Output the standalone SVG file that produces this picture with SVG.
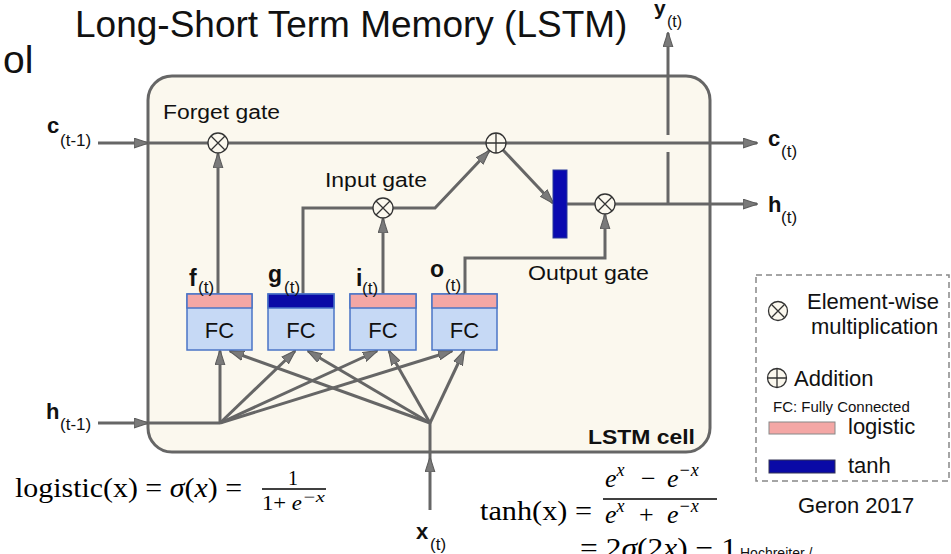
<svg xmlns="http://www.w3.org/2000/svg" width="951" height="554" viewBox="0 0 951 554">
<defs>
<marker id="ah" viewBox="0 0 14 10" refX="13" refY="5" markerWidth="15" markerHeight="11" markerUnits="userSpaceOnUse" orient="auto">
<path d="M0,0.5 L14,5 L0,9.5 Z" fill="#7a7a7a" stroke="#5c5c5c" stroke-width="1"/>
</marker>
<style>
.ln{fill:none;stroke:#666;stroke-width:3;stroke-linejoin:miter}
.ar{marker-end:url(#ah)}
.sans{font-family:"Liberation Sans",Arial,sans-serif;fill:#111}
.bold{font-weight:bold}
.serif{font-family:"Liberation Serif","Times New Roman",serif;fill:#000}
.op{fill:#fbf8ee;stroke:#333;stroke-width:1.3}
.opl{stroke:#333;stroke-width:1.3}
.fcb{fill:#c6d9f5;stroke:#4b74c6;stroke-width:1.5}
.pink{fill:#f4a7a5;stroke:#4b74c6;stroke-width:1.5}
.blue{fill:#0a0aa6;stroke:#4b74c6;stroke-width:1.5}
</style>
</defs>
<rect width="951" height="554" fill="#fff"/>

<g id="title">
<text class="sans" x="75" y="37" font-size="37" fill="#000">Long-Short Term Memory (LSTM)</text>
<text class="sans" x="3" y="73" font-size="39" fill="#000">ol</text>
</g>

<g id="cell">
<rect x="148" y="76" width="562" height="376" rx="24" fill="#fbf8ee" stroke="#666" stroke-width="3"/>
<text class="sans bold" x="588" y="444" font-size="20" textLength="107" lengthAdjust="spacingAndGlyphs">LSTM cell</text>
<text class="sans" x="163" y="119" font-size="20" textLength="117" lengthAdjust="spacingAndGlyphs">Forget gate</text>
<text class="sans" x="325" y="187" font-size="20" textLength="102" lengthAdjust="spacingAndGlyphs">Input gate</text>
<text class="sans" x="528" y="280" font-size="20" textLength="121" lengthAdjust="spacingAndGlyphs">Output gate</text>
</g>

<g id="connectors">
<path class="ln ar" d="M98,143 H148"/>
<path class="ln" d="M148,143 H208"/>
<path class="ln" d="M228,143 H486"/>
<path class="ln ar" d="M506,143 H757"/>
<path class="ln ar" d="M218,294 V154"/>
<path class="ln" d="M303,294 V208 H373"/>
<path class="ln ar" d="M383,294 V219"/>
<path class="ln ar" d="M393,208 H435 L489,151"/>
<path class="ln ar" d="M503,150 L553,203"/>
<path class="ln" d="M567,204 H595"/>
<path class="ln ar" d="M615,204 H757"/>
<path class="ln ar" d="M465,294 V258 H605 V215"/>
<path class="ln" d="M668,204 V152"/>
<path class="ln ar" d="M668,135 V33"/>
<path class="ln ar" d="M98,423 H148"/>
<path class="ln" d="M148,423 H220"/>
<path class="ln ar" d="M430,510 V458"/>
<path class="ln" d="M430,458 V423"/>
<path class="ln ar" d="M220,423 V351"/>
<path class="ln ar" d="M220,423 L295,351"/>
<path class="ln ar" d="M220,423 L377,351"/>
<path class="ln ar" d="M220,423 L452,351"/>
<path class="ln ar" d="M430,423 L230,351"/>
<path class="ln ar" d="M430,423 L308,351"/>
<path class="ln ar" d="M430,423 L389,351"/>
<path class="ln ar" d="M430,423 L464,351"/>
</g>

<g id="forget-op">
<circle class="op" cx="218" cy="143" r="10"/>
<path class="opl" d="M211,136 L225,150 M225,136 L211,150"/>
</g>
<g id="input-op">
<circle class="op" cx="383" cy="208" r="10"/>
<path class="opl" d="M376,201 L390,215 M390,201 L376,215"/>
</g>
<g id="add-op">
<circle class="op" cx="496" cy="143" r="10"/>
<path class="opl" d="M486,143 H506 M496,133 V153"/>
</g>
<g id="output-op">
<circle class="op" cx="605" cy="204" r="10"/>
<path class="opl" d="M598,197 L612,211 M612,197 L598,211"/>
</g>
<g id="tanh-bar">
<rect x="553" y="170" width="14" height="68" fill="#0a0ab0" stroke="#2a3a9a" stroke-width="1"/>
</g>

<g id="fc-f">
<rect class="fcb" x="187" y="294" width="65" height="56"/>
<rect class="pink" x="187" y="294" width="65" height="14"/>
<text class="sans" x="219.5" y="338" font-size="22" text-anchor="middle">FC</text>
<text class="sans bold" x="189" y="286" font-size="23">f</text>
<text class="sans" x="198" y="293" font-size="17">(t)</text>
</g>
<g id="fc-g">
<rect class="fcb" x="268" y="294" width="66" height="56"/>
<rect class="blue" x="268" y="294" width="66" height="14"/>
<text class="sans" x="301" y="338" font-size="22" text-anchor="middle">FC</text>
<text class="sans bold" x="268" y="282" font-size="23">g</text>
<text class="sans" x="284" y="293" font-size="17">(t)</text>
</g>
<g id="fc-i">
<rect class="fcb" x="350" y="294" width="66" height="56"/>
<rect class="pink" x="350" y="294" width="66" height="14"/>
<text class="sans" x="383" y="338" font-size="22" text-anchor="middle">FC</text>
<text class="sans bold" x="356" y="286" font-size="23">i</text>
<text class="sans" x="362" y="294" font-size="17">(t)</text>
</g>
<g id="fc-o">
<rect class="fcb" x="432" y="294" width="65" height="56"/>
<rect class="pink" x="432" y="294" width="65" height="14"/>
<text class="sans" x="464.5" y="338" font-size="22" text-anchor="middle">FC</text>
<text class="sans bold" x="430" y="277" font-size="23">o</text>
<text class="sans" x="445" y="291" font-size="17">(t)</text>
</g>

<g id="io-labels">
<text class="sans bold" x="47" y="133" font-size="22">c</text>
<text class="sans" x="60" y="146" font-size="17">(t-1)</text>
<text class="sans bold" x="46" y="419" font-size="22">h</text>
<text class="sans" x="60" y="430" font-size="17">(t-1)</text>
<text class="sans bold" x="768" y="146" font-size="22">c</text>
<text class="sans" x="781" y="157" font-size="17">(t)</text>
<text class="sans bold" x="768" y="212" font-size="22">h</text>
<text class="sans" x="781" y="223" font-size="17">(t)</text>
<text class="sans bold" x="654" y="15" font-size="21">y</text>
<text class="sans" x="667" y="27" font-size="16">(t)</text>
<text class="sans bold" x="416" y="539" font-size="22">x</text>
<text class="sans" x="430" y="550" font-size="17">(t)</text>
</g>

<g id="legend">
<rect x="756" y="275" width="193" height="206" fill="none" stroke="#888" stroke-width="1.5" stroke-dasharray="6 4"/>
<circle class="op" cx="778" cy="311" r="9.5" fill="#fff"/>
<path class="opl" d="M771.3,304.3 L784.7,317.7 M784.7,304.3 L771.3,317.7"/>
<text class="sans" x="807" y="309" font-size="22">Element-wise</text>
<text class="sans" x="811" y="334" font-size="22">multiplication</text>
<circle class="op" cx="777" cy="378" r="9.5" fill="#fff"/>
<path class="opl" d="M767.5,378 H786.5 M777,368.5 V387.5"/>
<text class="sans" x="794" y="386" font-size="22">Addition</text>
<text class="sans" x="773" y="412" font-size="15">FC: Fully Connected</text>
<rect x="769" y="422" width="66" height="12" fill="#f4a7a5" stroke="#888" stroke-width="1"/>
<text class="sans" x="848" y="434" font-size="22">logistic</text>
<rect x="769" y="460" width="66" height="13" fill="#0a0aa6" stroke="#335" stroke-width="1"/>
<text class="sans" x="848" y="473" font-size="22">tanh</text>
<text class="sans" x="798" y="513" font-size="22">Geron 2017</text>
<text class="sans" x="740" y="558" font-size="14">Hochreiter /</text>
</g>

<g id="formula-logistic">
<text class="serif" x="15" y="497" font-size="27" textLength="227" lengthAdjust="spacingAndGlyphs">logistic(x) = <tspan font-style="italic">σ</tspan>(<tspan font-style="italic">x</tspan>) =</text>
<text class="serif" x="293" y="485" font-size="20" text-anchor="middle">1</text>
<line x1="262" y1="489" x2="326" y2="489" stroke="#000" stroke-width="1.3"/>
<text class="serif" x="262" y="510" font-size="20" textLength="40" lengthAdjust="spacingAndGlyphs">1+ <tspan font-style="italic">e</tspan></text>
<text class="serif" x="302" y="502" font-size="15" font-style="italic" textLength="23" lengthAdjust="spacingAndGlyphs">−x</text>
</g>

<g id="formula-tanh">
<text class="serif" x="480" y="520" font-size="28" textLength="112" lengthAdjust="spacingAndGlyphs">tanh(x) =</text>
<text class="serif" x="605" y="487" font-size="26" font-style="italic">e<tspan font-size="18" dy="-11">x</tspan><tspan font-style="normal" dy="11" x="641">−</tspan><tspan x="667">e</tspan><tspan font-size="18" dy="-11">−x</tspan></text>
<line x1="603" y1="499" x2="717" y2="499" stroke="#000" stroke-width="1.3"/>
<text class="serif" x="605" y="523" font-size="26" font-style="italic">e<tspan font-size="18" dy="-11">x</tspan><tspan font-style="normal" dy="11" x="639">+</tspan><tspan x="667">e</tspan><tspan font-size="18" dy="-11">−x</tspan></text>
<text class="serif" x="580" y="557" font-size="28" textLength="157" lengthAdjust="spacingAndGlyphs">= 2<tspan font-style="italic">σ</tspan>(2<tspan font-style="italic">x</tspan>) − 1</text>
</g>
</svg>
